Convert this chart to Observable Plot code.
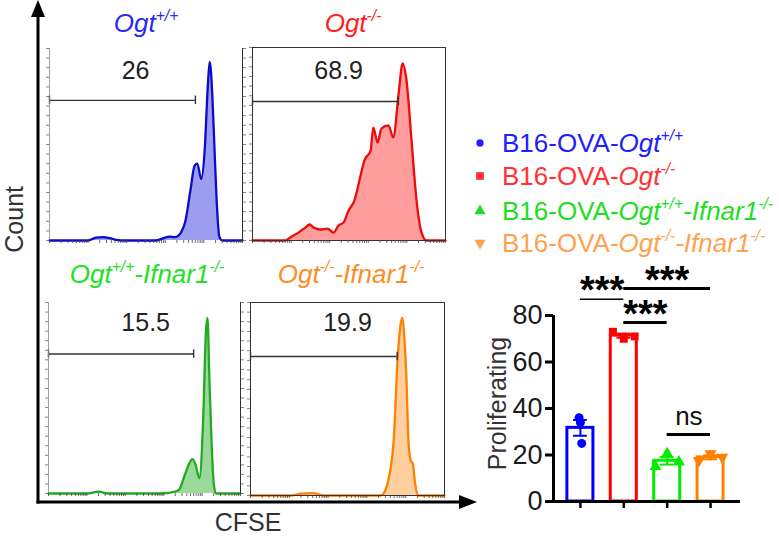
<!DOCTYPE html>
<html><head><meta charset="utf-8">
<script src="https://cdn.jsdelivr.net/npm/d3@7"></script>
<script src="https://cdn.jsdelivr.net/npm/@observablehq/plot@0.6"></script>
<style>
body{margin:0;background:#fff;font-family:"Liberation Sans",Arial,sans-serif;}
#root{position:relative;width:779px;height:536px;overflow:hidden;background:#fff;}
.abs{position:absolute;}
.title{position:absolute;font-style:italic;font-size:26px;line-height:1;white-space:nowrap;transform:translateX(-50%);}
.sup{font-size:0.6em;position:relative;top:-0.7em;}
.leg{position:absolute;font-size:26px;line-height:1;white-space:nowrap;}
.leg i{font-style:italic;}
.axlab{position:absolute;font-size:26px;line-height:1;color:#333;white-space:nowrap;}
</style></head>
<body><div id="root"></div>
<script>
// ================= DATA =================
// Histogram traces: [log10 CFSE, normalised count]
const histBlue = [[1.0,0],[2.0,0],[2.2,0.015],[2.4,0.018],[2.55,0.012],[2.9,0],[3.75,0],[4.1,0.02],[4.25,0.018],[4.4,0.04],[4.52,0.1],[4.65,0.26],[4.76,0.39],[4.83,0.40],[4.93,0.32],[5.02,0.47],[5.1,0.8],[5.15,0.93],[5.22,0.75],[5.27,0.5],[5.33,0.21],[5.4,0.02],[5.48,0],[6.0,0]];
const histRed = [[1.0,0],[1.85,0],[1.98,0.016],[2.19,0.041],[2.37,0.067],[2.48,0.083],[2.58,0.067],[2.76,0.057],[2.94,0.062],[3.10,0.041],[3.23,0.078],[3.36,0.093],[3.49,0.155],[3.64,0.207],[3.80,0.337],[3.90,0.415],[4.06,0.466],[4.13,0.585],[4.24,0.508],[4.34,0.58],[4.52,0.596],[4.65,0.534],[4.78,0.751],[4.89,0.917],[4.99,0.829],[5.12,0.518],[5.25,0.207],[5.38,0.041],[5.51,0],[6.0,0]];
const histGreen = [[1.0,0],[2.0,0],[2.3,0.01],[2.55,0],[3.9,0],[4.3,0.01],[4.4,0.02],[4.52,0.08],[4.65,0.15],[4.75,0.18],[4.83,0.15],[4.93,0.08],[5.03,0.4],[5.1,0.85],[5.14,0.92],[5.19,0.6],[5.25,0.25],[5.3,0.06],[5.36,0],[6.0,0]];
const histOrange = [[1.0,0],[2.05,0],[2.3,0.01],[2.6,0.012],[2.9,0],[4.35,0],[4.43,0.01],[4.56,0.088],[4.69,0.285],[4.79,0.70],[4.88,0.9],[4.92,0.92],[4.97,0.8],[5.02,0.6],[5.07,0.285],[5.13,0.18],[5.18,0.166],[5.25,0.052],[5.33,0],[6.0,0]];
const gatePercents = ["26", "68.9", "15.5", "19.9"];
const gateRange = [1.0, 4.78];          // log10 CFSE gate limits

const genotypeTitles = [
  [["Ogt",0],["+/+",1]],
  [["Ogt",0],["-/-",1]],
  [["Ogt",0],["+/+",1],["-Ifnar1",0],["-/-",1]],
  [["Ogt",0],["-/-",1],["-Ifnar1",0],["-/-",1]]
];
const legendPrefix = "B16-OVA-";

// Bar chart: proliferating (%) per replicate
const groups = ["Ogt+/+", "Ogt-/-", "Ogt+/+-Ifnar1-/-", "Ogt-/--Ifnar1-/-"];
const rep1 = [36, 73, 15, 17.5];
const rep2 = [34, 70, 20.5, 20.5];
const rep3 = [25, 71, 17, 19];
const yTicks = [0, 20, 40, 60, 80];
const comparisons = [[0,1],[1,3],[1,2],[2,3]];
const compLabels = ["***", "***", "***", "ns"];
const yLabel = "Proliferating";
const xLabel = "CFSE";
const countLabel = "Count";

// ================= STYLE / LAYOUT =================
const strokeCols = ["#0b0bcc", "#ee0b0b", "#22aa22", "#ff8000"];
const fillCols = ["#9c9cf0", "#ff9c9c", "#9ad99a", "#ffcf9e"];
const titleCols = ["#2a2af5", "#ff2020", "#22e022", "#ff8c22"];
const legendCols = ["#2020ff", "#ff3333", "#22dd22", "#ffa24f"];
const barCols = ["#0000ff", "#ff0000", "#00ee00", "#ff8000"];
const boxes = [
  {left:49, right:242, top:48, bottom:240, framed:false},
  {left:252, right:445, top:47, bottom:240, framed:true},
  {left:48, right:240, top:302, bottom:493, framed:false},
  {left:250, right:444, top:302, bottom:495, framed:true}
];
const titlePos = [[146,10],[353,10],[147,261],[351,261]];
const pctPos = [[3.23,0.885],[3.23,0.88],[3.53,0.895],[3.5,0.895]];
const gateLevels = [0.73, 0.72, 0.73, 0.72];
const legendRowCenter = [143, 176, 211, 243];
const sigLevels = [87, 91.6, 77, 28.8];
const FONT = "Liberation Sans, Arial, sans-serif";

const root = document.getElementById("root");

// big arrow axes (decoration)
root.insertAdjacentHTML("beforeend", `
<svg class="abs" style="left:0;top:0" width="779" height="536">
  <line x1="38" y1="12" x2="38" y2="503.5" stroke="#000" stroke-width="3"/>
  <line x1="36.5" y1="502" x2="462" y2="502" stroke="#000" stroke-width="3"/>
  <polygon points="38,0 31,17 45,17" fill="#000"/>
  <polygon points="477,502 459,495 459,509" fill="#000"/>
</svg>`);

function histogram(series, k) {
  const b = boxes[k];
  const ml = 7, mr = 7, mt = 3, mb = 6;
  const lvl = gateLevels[k];
  const marks = [
    Plot.areaY(series, {x: d => 10 ** d[0], y: d => d[1], fill: fillCols[k], curve: "monotone-x"}),
    Plot.lineY(series, {x: d => 10 ** d[0], y: d => d[1], stroke: strokeCols[k], strokeWidth: 2.3, curve: "monotone-x"}),
    Plot.axisX({ticks: 45, tickSize: 3, tickFormat: () => "", stroke: "#444", strokeWidth: 0.8, label: null}),
    Plot.axisY({ticks: 20, tickSize: 3, tickFormat: () => "", stroke: "#666", strokeWidth: 0.8, label: null}),
    Plot.ruleY([lvl], {x1: 10 ** gateRange[0], x2: 10 ** gateRange[1], stroke: "#333", strokeWidth: 1.4}),
    Plot.ruleX(gateRange, {x: d => 10 ** d, y1: lvl - 0.022, y2: lvl + 0.022, stroke: "#333", strokeWidth: 1.4}),
    Plot.text([gatePercents[k]], {x: 10 ** pctPos[k][0], y: pctPos[k][1], text: d => d, fontSize: 25, fill: "#222"})
  ];
  if (b.framed) marks.push(Plot.frame({stroke: "#333", strokeWidth: 1}));
  else marks.push(
    Plot.ruleX([10], {stroke: "#888", strokeWidth: 0.8}),
    Plot.ruleX([1e6], {stroke: "#333", strokeWidth: 1}),
    Plot.axisY({anchor: "right", ticks: 20, tickSize: 3, tickFormat: () => "", stroke: "#666", strokeWidth: 0.8, label: null})
  );
  const svg = Plot.plot({
    width: b.right - b.left + ml + mr, height: b.bottom - b.top + mt + mb,
    marginLeft: ml, marginRight: mr, marginTop: mt, marginBottom: mb,
    x: {type: "log", domain: [10, 1e6]},
    y: {domain: [0, 1]},
    style: {background: "transparent", overflow: "visible", fontFamily: FONT},
    marks
  });
  const wrap = document.createElement("div");
  wrap.className = "abs";
  wrap.style.left = (b.left - ml) + "px";
  wrap.style.top = (b.top - mt) + "px";
  wrap.appendChild(svg);
  root.appendChild(wrap);
}
[histBlue, histRed, histGreen, histOrange].forEach((s, k) => histogram(s, k));

function segHTML(segs) {
  return segs.map(([t, s]) => s ? `<span class="sup">${t}</span>` : t).join("");
}
genotypeTitles.forEach((segs, k) => {
  const d = document.createElement("div");
  d.className = "title";
  d.style.left = titlePos[k][0] + "px";
  d.style.top = titlePos[k][1] + "px";
  d.style.color = titleCols[k];
  d.innerHTML = segHTML(segs);
  root.appendChild(d);
});

// axis labels
const cnt = document.createElement("div");
cnt.className = "axlab";
cnt.textContent = countLabel;
cnt.style.writingMode = "vertical-rl";
cnt.style.fontSize = "25px";
cnt.style.lineHeight = "1.15";
cnt.style.left = "0px"; cnt.style.top = "186px";
cnt.style.transform = "rotate(180deg)";
root.appendChild(cnt);
const cf = document.createElement("div");
cf.className = "axlab";
cf.textContent = xLabel;
cf.style.fontSize = "25px";
cf.style.left = "248px"; cf.style.top = "510px";
cf.style.transform = "translateX(-50%)";
root.appendChild(cf);

// legend
const legSymbols = [d3.symbolCircle, d3.symbolSquare, d3.symbolTriangle, d3.symbolTriangle];
const legSizes = [42, 60, 55, 55];
genotypeTitles.forEach((segs, k) => {
  const c = legendRowCenter[k];
  const rot = k === 3 ? 180 : 0;
  root.insertAdjacentHTML("beforeend",
    `<svg class="abs" style="left:470px;top:${c-10}px" width="20" height="20"><path transform="translate(10,10) rotate(${rot})" d="${d3.symbol(legSymbols[k], legSizes[k])()}" fill="${legendCols[k]}"/></svg>`);
  const d = document.createElement("div");
  d.className = "leg";
  d.style.left = "502px";
  d.style.top = (c - 12.7) + "px";
  d.style.color = legendCols[k];
  d.innerHTML = legendPrefix + "<i>" + segHTML(segs) + "</i>";
  root.appendChild(d);
});

// bar chart
const reps = [rep1, rep2, rep3];
const summary = groups.map((g, i) => {
  const v = reps.map(r => r[i]);
  const m = d3.mean(v), se = d3.deviation(v) / Math.sqrt(v.length);
  return {g, i: i + 1, mean: m, lo: m - se, hi: m + se, col: barCols[i]};
});
const pointSpread = [0.03, 0.25, 0.27, 0.27];
const pts = [];
groups.forEach((g, i) => reps.forEach((r, j) => pts.push({i: i + 1, v: r[i], off: (j - 1) * pointSpread[i], col: barCols[i]})));
const symbolNames = ["circle", "square", "triangle", "triangle"];
const barXDomain = [0.38, 4.69];
const sig = comparisons.map(([a, b], k) => ({x1: a + 1, x2: b + 1, y: sigLevels[k], label: compLabels[k], k}));
const sigStars = sig.filter(d => d.label !== "ns");
const sigNs = sig.filter(d => d.label === "ns");

const barMarks = [
  Plot.rectY(summary, {x1: d => d.i - 0.3, x2: d => d.i + 0.3, y: "mean", fill: "white", stroke: "col", strokeWidth: 3}),
  Plot.ruleX(summary, {x: "i", y1: "lo", y2: "hi", stroke: "col", strokeWidth: 2}),
  Plot.ruleY(summary, {y: "lo", x1: d => d.i - 0.16, x2: d => d.i + 0.16, stroke: "col", strokeWidth: 2}),
  Plot.ruleY(summary, {y: "hi", x1: d => d.i - 0.16, x2: d => d.i + 0.16, stroke: "col", strokeWidth: 2}),
  ...[0,1,2,3].map(k => Plot.dot(pts.filter(p => p.i === k + 1), {x: d => d.i + d.off, y: "v", symbol: symbolNames[k], fill: barCols[k], r: 4.5, rotate: k === 3 ? 180 : 0})),
  Plot.ruleY([0], {stroke: "#000", strokeWidth: 3}),
  Plot.ruleX([barXDomain[0]], {stroke: "#000", strokeWidth: 3}),
  Plot.axisY({ticks: yTicks, tickSize: 8, tickFormat: () => "", strokeWidth: 3, label: null}),
  Plot.text(yTicks, {y: d => d, frameAnchor: "left", dx: -11, textAnchor: "end", text: d => String(d), fontSize: 27, fill: "#1a1a1a"}),
  Plot.text([yLabel], {frameAnchor: "left", rotate: -90, textAnchor: "middle", dx: -56, dy: -5, text: d => d, fontSize: 25, fill: "#333"}),
  Plot.axisX({ticks: [1,2,3,4], tickSize: 7, tickFormat: () => "", strokeWidth: 2.5, label: null}),
  Plot.ruleY(sig.filter(d => d.k === 0), {y: "y", x1: "x1", x2: "x2", stroke: "#000", strokeWidth: 1.5}),
  Plot.ruleY(sig.filter(d => d.k !== 0), {y: "y", x1: "x1", x2: "x2", stroke: "#000", strokeWidth: 3}),
  Plot.text(sigStars, {x: d => (d.x1 + d.x2) / 2, y: "y", text: "label", lineAnchor: "middle", fontSize: 38, fontWeight: "bold", dy: -8, fill: "#000"}),
  Plot.text(sigNs, {x: d => (d.x1 + d.x2) / 2, y: "y", text: "label", lineAnchor: "bottom", fontSize: 26, dy: -10, fill: "#111"})
];
const barSvg = Plot.plot({
  width: 339, height: 281,
  marginLeft: 113, marginRight: 39, marginTop: 60, marginBottom: 35,
  x: {domain: barXDomain},
  y: {domain: [0, 80]},
  style: {background: "transparent", overflow: "visible", fontFamily: FONT},
  marks: barMarks
});
const bw = document.createElement("div");
bw.className = "abs";
bw.style.left = "440px"; bw.style.top = "255px";
bw.appendChild(barSvg);
root.appendChild(bw);
</script></body></html>
